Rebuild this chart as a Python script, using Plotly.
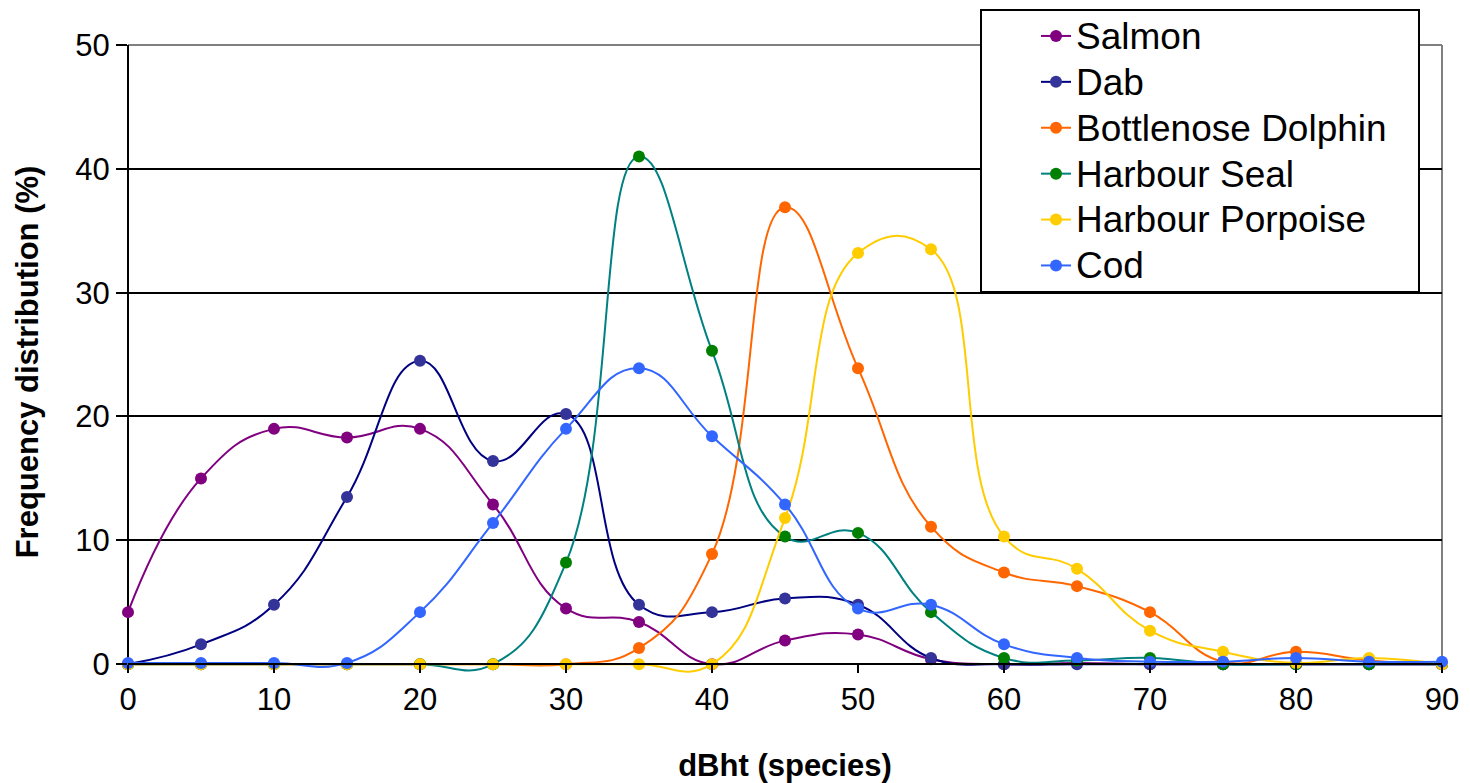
import plotly.graph_objects as go

x_vals = [0, 5, 10, 15, 20, 25, 30, 35, 40, 45, 50, 55, 60, 65, 70, 75, 80, 85, 90]

salmon = [4.2, 15.0, 19.0, 18.3, 19.0, 12.9, 4.5, 3.4, 0.0, 1.9, 2.4, 0.4, 0.0, 0.1, 0.0, 0.0, 0.0, 0.0, 0.0]
dab = [0.0, 1.6, 4.8, 13.5, 24.5, 16.4, 20.2, 4.8, 4.2, 5.3, 4.8, 0.5, 0.0, 0.0, 0.0, 0.0, 0.0, 0.0, 0.0]
dolphin = [0.0, 0.0, 0.0, 0.0, 0.0, 0.0, 0.0, 1.3, 8.9, 36.9, 23.9, 11.1, 7.4, 6.3, 4.2, 0.2, 1.0, 0.3, 0.0]
seal = [0.0, 0.0, 0.0, 0.0, 0.0, 0.0, 8.2, 41.0, 25.3, 10.3, 10.6, 4.2, 0.5, 0.3, 0.5, 0.0, 0.0, 0.0, 0.0]
porpoise = [0.0, 0.0, 0.0, 0.0, 0.0, 0.0, 0.0, 0.0, 0.0, 11.8, 33.2, 33.5, 10.3, 7.7, 2.7, 1.0, 0.1, 0.5, 0.0]
cod = [0.1, 0.1, 0.1, 0.1, 4.2, 11.4, 19.0, 23.9, 18.4, 12.9, 4.5, 4.8, 1.6, 0.5, 0.2, 0.2, 0.5, 0.2, 0.2]

series_names = ["Salmon", "Dab", "Bottlenose Dolphin", "Harbour Seal", "Harbour Porpoise", "Cod"]
series_values = [salmon, dab, dolphin, seal, porpoise, cod]
line_colors = ["#800080", "#000080", "#FF6600", "#008080", "#FFCC00", "#3366FF"]
marker_colors = ["#800080", "#333399", "#FF6600", "#008000", "#FFCC00", "#3366FF"]

y_ticks = [0, 10, 20, 30, 40, 50]
x_ticks = [0, 10, 20, 30, 40, 50, 60, 70, 80, 90]

FONT = "Liberation Sans, Arial, sans-serif"

# layout geometry (pixels)
W, H = 1470, 783
L, R, T = 128, 28, 45
Y_MIN = -1.2
plot_bottom = 679
B = H - plot_bottom
plot_h = plot_bottom - T
plot_w = W - L - R
zero_pos = (plot_bottom - 664) / plot_h

fig = go.Figure()
for name, vals, lc, mc in zip(series_names, series_values, line_colors, marker_colors):
    fig.add_trace(go.Scatter(
        x=x_vals, y=vals, name='<span style="font-size:37px">' + name + '</span>',
        mode="lines+markers",
        line=dict(color=lc, width=2, shape="spline", smoothing=1.3),
        marker=dict(color=mc, size=12),
        cliponaxis=False,
    ))

def px_x(p):
    return (p - L) / plot_w

def px_y(p):
    return (plot_bottom - p) / plot_h

shapes = [
    # gray plot-area border (top and right)
    dict(type="line", xref="paper", yref="paper", x0=0, x1=1, y0=1, y1=1,
         line=dict(color="#808080", width=2), layer="between"),
    dict(type="line", xref="paper", yref="paper", x0=1, x1=1, y0=zero_pos, y1=1,
         line=dict(color="#808080", width=2), layer="between"),
    # black y axis line
    dict(type="line", xref="paper", yref="paper", x0=0, x1=0, y0=zero_pos, y1=1,
         line=dict(color="black", width=2), layer="between"),
    # legend box
    dict(type="rect", xref="paper", yref="paper",
         x0=px_x(981), x1=px_x(1419), y0=px_y(292), y1=px_y(10),
         line=dict(color="black", width=2), fillcolor="white", layer="above"),
]

fig.update_layout(
    template="none",
    width=W, height=H,
    margin=dict(l=L, r=R, t=T, b=B, pad=0, autoexpand=False),
    paper_bgcolor="white", plot_bgcolor="white",
    font=dict(family=FONT, color="black"),
    showlegend=True,
    legend=dict(
        x=px_x(1036), y=px_y(8), xanchor="left", yanchor="top",
        bgcolor="rgba(0,0,0,0)", borderwidth=0,
        font=dict(family=FONT, size=33, color="black"),
        traceorder="normal",
    ),
    xaxis=dict(
        range=[0, 90], tickvals=x_ticks, ticktext=[str(v) for v in x_ticks],
        anchor="free", position=zero_pos, automargin=False,
        showline=True, linecolor="black", linewidth=2,
        ticks="outside", ticklen=8, tickwidth=2, tickcolor="black",
        showgrid=False, zeroline=False,
        tickfont=dict(family=FONT, size=31, color="black"),
        title=dict(text="<b>dBht (species)</b>", font=dict(family=FONT, size=31, color="black"), standoff=40),
    ),
    yaxis=dict(
        range=[Y_MIN, 50], tickvals=y_ticks, ticktext=[str(v) for v in y_ticks],
        showline=False, automargin=False,
        ticks="outside", ticklen=11, tickwidth=2, tickcolor="black",
        showgrid=True, gridcolor="black", gridwidth=2, zeroline=False,
        tickfont=dict(family=FONT, size=31, color="black"),
        title=dict(text="<b>Frequency distribution (%)</b>", font=dict(family=FONT, size=31, color="black"), standoff=27),
    ),
    shapes=shapes,
)

fig.write_html("out.html")
